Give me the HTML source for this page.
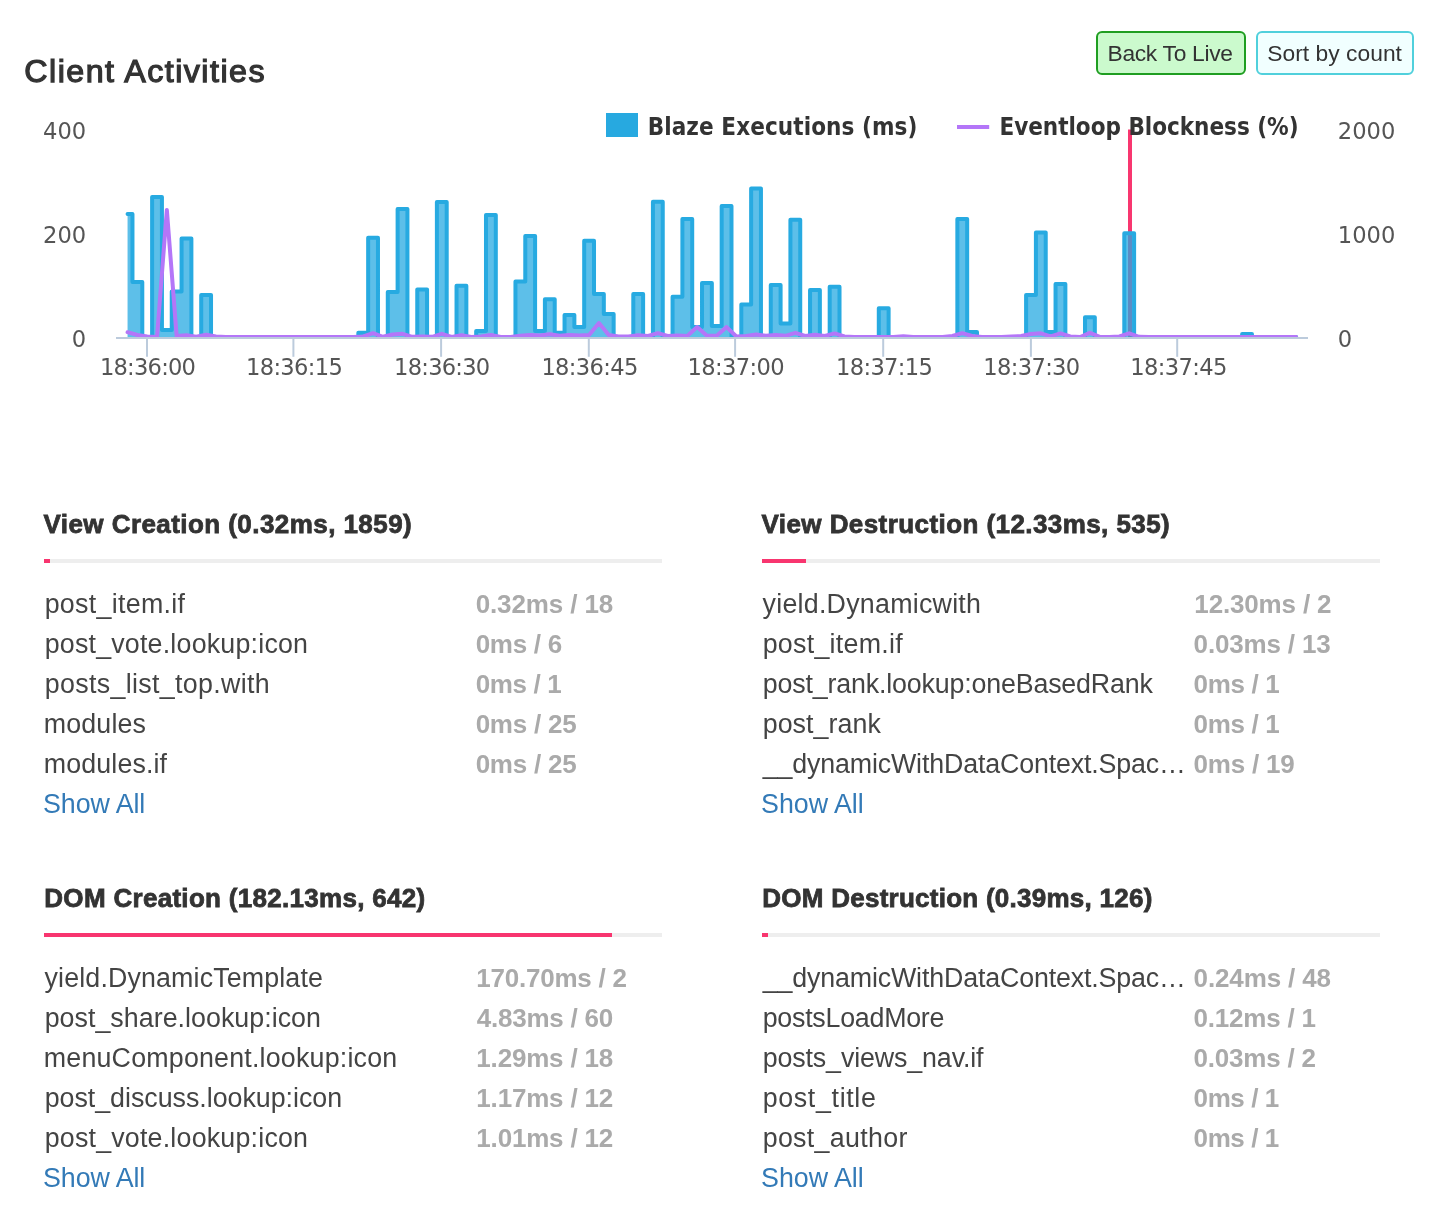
<!DOCTYPE html>
<html lang="en"><head><meta charset="utf-8"><title>Client Activities</title>
<style>
html,body{margin:0;padding:0;background:#fff;}
body{width:1446px;height:1215px;position:relative;overflow:hidden;font-family:"Liberation Sans",sans-serif;color:#333;}
.page{position:absolute;left:0;top:0;width:1446px;height:1215px;overflow:hidden;}
h2.title{position:absolute;margin:0;left:0;top:48.95px;height:44px;line-height:44px;font-size:32.2px;font-weight:normal;-webkit-text-stroke:1.25px #333;color:#333;white-space:nowrap;}
.btns{position:absolute;left:1096px;top:31px;height:44px;white-space:nowrap;}
.btn{position:absolute;top:0;box-sizing:border-box;height:44px;border-radius:6px;border:2px solid;font-family:"Liberation Sans",sans-serif;font-size:22.8px;line-height:41px;color:#333;padding:0;margin:0;text-align:left;white-space:nowrap;overflow:hidden;}
.btn.live{left:0;width:149.5px;background:#cbfacd;border-color:#1f9e21;}
.btn.sort{left:160.3px;width:157.7px;background:#f1ffff;border-color:#50d0dc;}
.btn span{position:absolute;top:0;}
svg.chart{position:absolute;left:0;top:0;}
svg.chart text{font-family:"DejaVu Sans","Liberation Sans",sans-serif;font-size:22.6px;fill:#555;}
svg.chart text.lg{font-family:"DejaVu Sans Condensed","DejaVu Sans","Liberation Sans",sans-serif;font-size:24px;font-weight:bold;fill:#333;}
.sec{position:absolute;width:618px;}
.sec h4{position:absolute;left:0;margin:0;font-size:26px;font-weight:bold;line-height:40px;height:40px;color:#333;-webkit-text-stroke:0.8px #333;white-space:nowrap;}
.sec .bar{position:absolute;left:0;width:618px;height:4px;background:#eee;}
.sec .bar i{display:block;height:4px;background:#f8356f;}
.sec .row{position:absolute;left:0;width:618px;height:40px;line-height:40px;font-size:26px;white-space:nowrap;}
.sec .row .n{position:absolute;left:0;top:-0.3px;font-size:26.8px;color:#444;}
.sec .row .v{position:absolute;left:432.4px;top:0;color:#aaa;font-weight:bold;}
.sec a{position:absolute;left:0;height:40px;line-height:40px;font-size:26.8px;margin-top:-0.3px;color:#337ab7;text-decoration:none;white-space:nowrap;}
</style></head><body><div class="page">
<h2 class="title" style="left:24.35px;letter-spacing:1.484px">Client Activities</h2>
<div class="btns"><button class="btn live"><span style="left:9.50px;letter-spacing:-0.308px">Back To Live</span></button><button class="btn sort"><span style="left:8.90px;letter-spacing:0.037px">Sort by count</span></button></div>
<svg class="chart" width="1446" height="420" viewBox="0 0 1446 420">
<defs><clipPath id="cp"><rect x="116" y="100" width="1192" height="237"/></clipPath></defs>
<g clip-path="url(#cp)">
<line x1="1130" x2="1130" y1="129.5" y2="337" stroke="#f8366f" stroke-width="4"/>
<path d="M127.56,214H132.47V282H142.29V337H152.11V197H161.93V330H171.75V291.6H181.57V238.6H191.39V337H201.21V295H211.03V337H220.85H230.67H240.49H250.31H260.13H269.95H279.77H289.59H299.41H309.23H319.05H328.87H338.69H348.51H358.33V332.7H368.15V237.7H377.97V337H387.79V292H397.61V209H407.43V337H417.25V289.5H427.07V337H436.89V202H446.71V337H456.53V285.7H466.35V337H476.17V331H485.99V215.1H495.81V337H505.63H515.45V281.5H525.27V236H535.09V331H544.91V299.2H554.73V332.8H564.55V314.9H574.37V326.9H584.19V240.7H594.01V294H603.83V314H613.65V337H623.47H633.29V294H643.11V337H652.93V201.7H662.75V337H672.57V296.7H682.39V219H692.21V327H702.03V283H711.85V326H721.67V206.1H731.49V337H741.31V304.5H751.13V188.6H760.95V337H770.77V285.1H780.59V323.4H790.41V219.7H800.23V337H810.05V290H819.87V337H829.69V286.8H839.51V337H849.33H859.15H868.97H878.79V308.2H888.61V337H898.43H908.25H918.07H927.89H937.71H947.53H957.35V219H967.17V332H976.99V337H986.81H996.63H1006.45H1016.27H1026.09V295H1035.91V232.6H1045.73V332H1055.55V284H1065.37V337H1075.19H1085.01V317.2H1094.83V337H1104.65H1114.47H1124.29V233.3H1134.11V337H1143.93H1153.75H1163.57H1173.39H1183.21H1193.03H1202.85H1212.67H1222.49H1232.31H1242.13V334.1H1251.95V337H1261.77H1271.59H1281.41H1291.23H1296.14V337H127.56Z" fill="#27aae1" fill-opacity="0.75" stroke="none"/>
<path d="M127.56,214H132.47V282H142.29V337H152.11V197H161.93V330H171.75V291.6H181.57V238.6H191.39V337H201.21V295H211.03V337H220.85H230.67H240.49H250.31H260.13H269.95H279.77H289.59H299.41H309.23H319.05H328.87H338.69H348.51H358.33V332.7H368.15V237.7H377.97V337H387.79V292H397.61V209H407.43V337H417.25V289.5H427.07V337H436.89V202H446.71V337H456.53V285.7H466.35V337H476.17V331H485.99V215.1H495.81V337H505.63H515.45V281.5H525.27V236H535.09V331H544.91V299.2H554.73V332.8H564.55V314.9H574.37V326.9H584.19V240.7H594.01V294H603.83V314H613.65V337H623.47H633.29V294H643.11V337H652.93V201.7H662.75V337H672.57V296.7H682.39V219H692.21V327H702.03V283H711.85V326H721.67V206.1H731.49V337H741.31V304.5H751.13V188.6H760.95V337H770.77V285.1H780.59V323.4H790.41V219.7H800.23V337H810.05V290H819.87V337H829.69V286.8H839.51V337H849.33H859.15H868.97H878.79V308.2H888.61V337H898.43H908.25H918.07H927.89H937.71H947.53H957.35V219H967.17V332H976.99V337H986.81H996.63H1006.45H1016.27H1026.09V295H1035.91V232.6H1045.73V332H1055.55V284H1065.37V337H1075.19H1085.01V317.2H1094.83V337H1104.65H1114.47H1124.29V233.3H1134.11V337H1143.93H1153.75H1163.57H1173.39H1183.21H1193.03H1202.85H1212.67H1222.49H1232.31H1242.13V334.1H1251.95V337H1261.77H1271.59H1281.41H1291.23H1296.14" fill="none" stroke="#27aae1" stroke-width="4" stroke-linejoin="round" stroke-linecap="round"/>
<path d="M127.56,332.2L137.38,335L147.2,336.5L157.02,337L166.84,210L176.66,336L186.48,335.2L196.3,336.8L206.12,334.8L215.94,336.5L225.76,337L235.58,337L245.4,337L255.22,337L265.04,337L274.86,337L284.68,337L294.5,337L304.32,337L314.14,337L323.96,337L333.78,337L343.6,337L353.42,337L363.24,336.5L373.06,333.2L382.88,336.8L392.7,334.5L402.52,333.8L412.34,336.8L422.16,336.6L431.98,336.8L441.8,333.8L451.62,337L461.44,335.3L471.26,337L481.08,336.5L490.9,335L500.72,337L510.54,337L520.36,335.8L530.18,335L540,335.6L549.82,334.3L559.64,335.8L569.46,335L579.28,335.5L589.1,335L598.92,323.1L608.74,335L618.56,336.5L628.38,336.5L638.2,335.3L648.02,336L657.84,333.2L667.66,336L677.48,335.5L687.3,335.9L697.12,327L706.94,335.7L716.76,335.7L726.58,327.1L736.4,336.5L746.22,336L756.04,334.5L765.86,335.8L775.68,335L785.5,335.8L795.32,332.8L805.14,336L814.96,334.8L824.78,336L834.6,333.4L844.42,336.5L854.24,337L864.06,337L873.88,337L883.7,337L893.52,337L903.34,336.3L913.16,337L922.98,337L932.8,337L942.62,337L952.44,336L962.26,333.2L972.08,336L981.9,337L991.72,337L1001.54,337L1011.36,336.5L1021.18,336L1031,334L1040.82,333.3L1050.64,336.3L1060.46,333.3L1070.28,336.5L1080.1,337L1089.92,332.8L1099.74,336.8L1109.56,337L1119.38,336.5L1129.2,333.3L1139.02,336.8L1148.84,337L1158.66,337L1168.48,337L1178.3,337L1188.12,337L1197.94,337L1207.76,337L1217.58,337L1227.4,337L1237.22,337L1247.04,337L1256.86,337L1266.68,337L1276.5,337L1286.32,337L1296.14,337" fill="none" stroke="#b476f8" stroke-width="4" stroke-linecap="round" stroke-linejoin="round"/>
</g>
<g stroke="#bccbdc" stroke-width="2" fill="none">
<line x1="116" x2="1308" y1="338" y2="338"/>
<line x1="147.00" x2="147.00" y1="338" y2="356.8"/>
<line x1="293.40" x2="293.40" y1="338" y2="356.8"/>
<line x1="441.10" x2="441.10" y1="338" y2="356.8"/>
<line x1="588.80" x2="588.80" y1="338" y2="356.8"/>
<line x1="735.10" x2="735.10" y1="338" y2="356.8"/>
<line x1="883.20" x2="883.20" y1="338" y2="356.8"/>
<line x1="1030.90" x2="1030.90" y1="338" y2="356.8"/>
<line x1="1177.20" x2="1177.20" y1="338" y2="356.8"/>
</g>
<text x="99.91" y="374.6" letter-spacing="-0.776">18:36:00</text>
<text x="245.93" y="374.6" letter-spacing="-0.647">18:36:15</text>
<text x="394.12" y="374.6" letter-spacing="-0.776">18:36:30</text>
<text x="541.40" y="374.6" letter-spacing="-0.647">18:36:45</text>
<text x="687.61" y="374.6" letter-spacing="-0.647">18:37:00</text>
<text x="835.98" y="374.6" letter-spacing="-0.647">18:37:15</text>
<text x="983.26" y="374.6" letter-spacing="-0.647">18:37:30</text>
<text x="1130.36" y="374.6" letter-spacing="-0.647">18:37:45</text>
<text x="86.2" y="138.9" text-anchor="end">400</text>
<text x="86.2" y="243.2" text-anchor="end">200</text>
<text x="86.2" y="346.9" text-anchor="end">0</text>
<text x="1337.8" y="138.9">2000</text>
<text x="1337.8" y="243.2">1000</text>
<text x="1337.8" y="346.9">0</text>
<rect x="606" y="113" width="32" height="24" fill="#27a9e0"/>
<text class="lg" x="647.70" y="134.7" letter-spacing="0.085">Blaze Executions (ms)</text>
<rect x="957" y="125" width="32.2" height="4" fill="#b476f8"/>
<text class="lg" x="999.45" y="134.7" letter-spacing="-0.025">Eventloop Blockness (%)</text>
</svg>
<div class="sec" style="left:44px;top:504.4px">
 <h4 style="top:0;left:-0.49px;letter-spacing:0.434px">View Creation (0.32ms, 1859)</h4>
 <div class="bar" style="top:55.0px"><i style="width:6.0px"></i></div>
 <div class="row" style="top:79.7px"><span class="n" style="left:0.67px;letter-spacing:0.296px">post_item.if</span><span class="v" style="left:431.63px;letter-spacing:-0.119px">0.32ms / 18</span></div>
 <div class="row" style="top:119.7px"><span class="n" style="left:0.67px;letter-spacing:0.207px">post_vote.lookup:icon</span><span class="v" style="left:431.63px;letter-spacing:-0.265px">0ms / 6</span></div>
 <div class="row" style="top:159.7px"><span class="n" style="left:0.67px;letter-spacing:0.339px">posts_list_top.with</span><span class="v" style="left:431.63px;letter-spacing:-0.331px">0ms / 1</span></div>
 <div class="row" style="top:199.7px"><span class="n" style="left:-0.23px;letter-spacing:0.143px">modules</span><span class="v" style="left:431.63px;letter-spacing:-0.236px">0ms / 25</span></div>
 <div class="row" style="top:239.7px"><span class="n" style="left:-0.23px;letter-spacing:0.128px">modules.if</span><span class="v" style="left:431.63px;letter-spacing:-0.236px">0ms / 25</span></div>
 <a style="top:279.7px;left:-0.95px;letter-spacing:-0.076px">Show All</a>
</div>
<div class="sec" style="left:762px;top:504.4px">
 <h4 style="top:0;left:-0.50px;letter-spacing:0.425px">View Destruction (12.33ms, 535)</h4>
 <div class="bar" style="top:55.0px"><i style="width:44.0px"></i></div>
 <div class="row" style="top:79.7px"><span class="n" style="left:0.58px;letter-spacing:0.245px">yield.Dynamicwith</span><span class="v" style="left:432.34px;letter-spacing:-0.155px">12.30ms / 2</span></div>
 <div class="row" style="top:119.7px"><span class="n" style="left:0.66px;letter-spacing:0.279px">post_item.if</span><span class="v" style="left:431.62px;letter-spacing:-0.173px">0.03ms / 13</span></div>
 <div class="row" style="top:159.7px"><span class="n" style="left:0.66px;letter-spacing:-0.161px">post_rank.lookup:oneBasedRank</span><span class="v" style="left:431.62px;letter-spacing:-0.330px">0ms / 1</span></div>
 <div class="row" style="top:199.7px"><span class="n" style="left:0.66px;letter-spacing:0.076px">post_rank</span><span class="v" style="left:431.62px;letter-spacing:-0.330px">0ms / 1</span></div>
 <div class="row" style="top:239.7px"><span class="n" style="left:0.68px;letter-spacing:-0.147px">__dynamicWithDataContext.Spac…</span><span class="v" style="left:431.62px;letter-spacing:-0.234px">0ms / 19</span></div>
 <a style="top:279.7px;left:-0.96px;letter-spacing:-0.024px">Show All</a>
</div>
<div class="sec" style="left:44px;top:878.4px">
 <h4 style="top:0;left:0.31px;letter-spacing:0.301px">DOM Creation (182.13ms, 642)</h4>
 <div class="bar" style="top:55.0px"><i style="width:568.0px"></i></div>
 <div class="row" style="top:79.7px"><span class="n" style="left:0.59px;letter-spacing:0.140px">yield.DynamicTemplate</span><span class="v" style="left:432.35px;letter-spacing:-0.234px">170.70ms / 2</span></div>
 <div class="row" style="top:119.7px"><span class="n" style="left:0.67px;letter-spacing:0.033px">post_share.lookup:icon</span><span class="v" style="left:432.81px;letter-spacing:-0.237px">4.83ms / 60</span></div>
 <div class="row" style="top:159.7px"><span class="n" style="left:-0.23px;letter-spacing:0.201px">menuComponent.lookup:icon</span><span class="v" style="left:432.35px;letter-spacing:-0.191px">1.29ms / 18</span></div>
 <div class="row" style="top:199.7px"><span class="n" style="left:0.67px;letter-spacing:-0.023px">post_discuss.lookup:icon</span><span class="v" style="left:432.35px;letter-spacing:-0.191px">1.17ms / 12</span></div>
 <div class="row" style="top:239.7px"><span class="n" style="left:0.67px;letter-spacing:0.207px">post_vote.lookup:icon</span><span class="v" style="left:432.35px;letter-spacing:-0.191px">1.01ms / 12</span></div>
 <a style="top:279.7px;left:-0.95px;letter-spacing:-0.076px">Show All</a>
</div>
<div class="sec" style="left:762px;top:878.4px">
 <h4 style="top:0;left:0.30px;letter-spacing:0.254px">DOM Destruction (0.39ms, 126)</h4>
 <div class="bar" style="top:55.0px"><i style="width:6.0px"></i></div>
 <div class="row" style="top:79.7px"><span class="n" style="left:0.68px;letter-spacing:-0.147px">__dynamicWithDataContext.Spac…</span><span class="v" style="left:431.62px;letter-spacing:-0.138px">0.24ms / 48</span></div>
 <div class="row" style="top:119.7px"><span class="n" style="left:0.66px;letter-spacing:-0.243px">postsLoadMore</span><span class="v" style="left:431.62px;letter-spacing:-0.214px">0.12ms / 1</span></div>
 <div class="row" style="top:159.7px"><span class="n" style="left:0.66px;letter-spacing:-0.119px">posts_views_nav.if</span><span class="v" style="left:431.62px;letter-spacing:-0.214px">0.03ms / 2</span></div>
 <div class="row" style="top:199.7px"><span class="n" style="left:0.66px;letter-spacing:0.665px">post_title</span><span class="v" style="left:431.62px;letter-spacing:-0.421px">0ms / 1</span></div>
 <div class="row" style="top:239.7px"><span class="n" style="left:0.66px;letter-spacing:0.327px">post_author</span><span class="v" style="left:431.62px;letter-spacing:-0.421px">0ms / 1</span></div>
 <a style="top:279.7px;left:-0.96px;letter-spacing:-0.024px">Show All</a>
</div>
</div></body></html>
